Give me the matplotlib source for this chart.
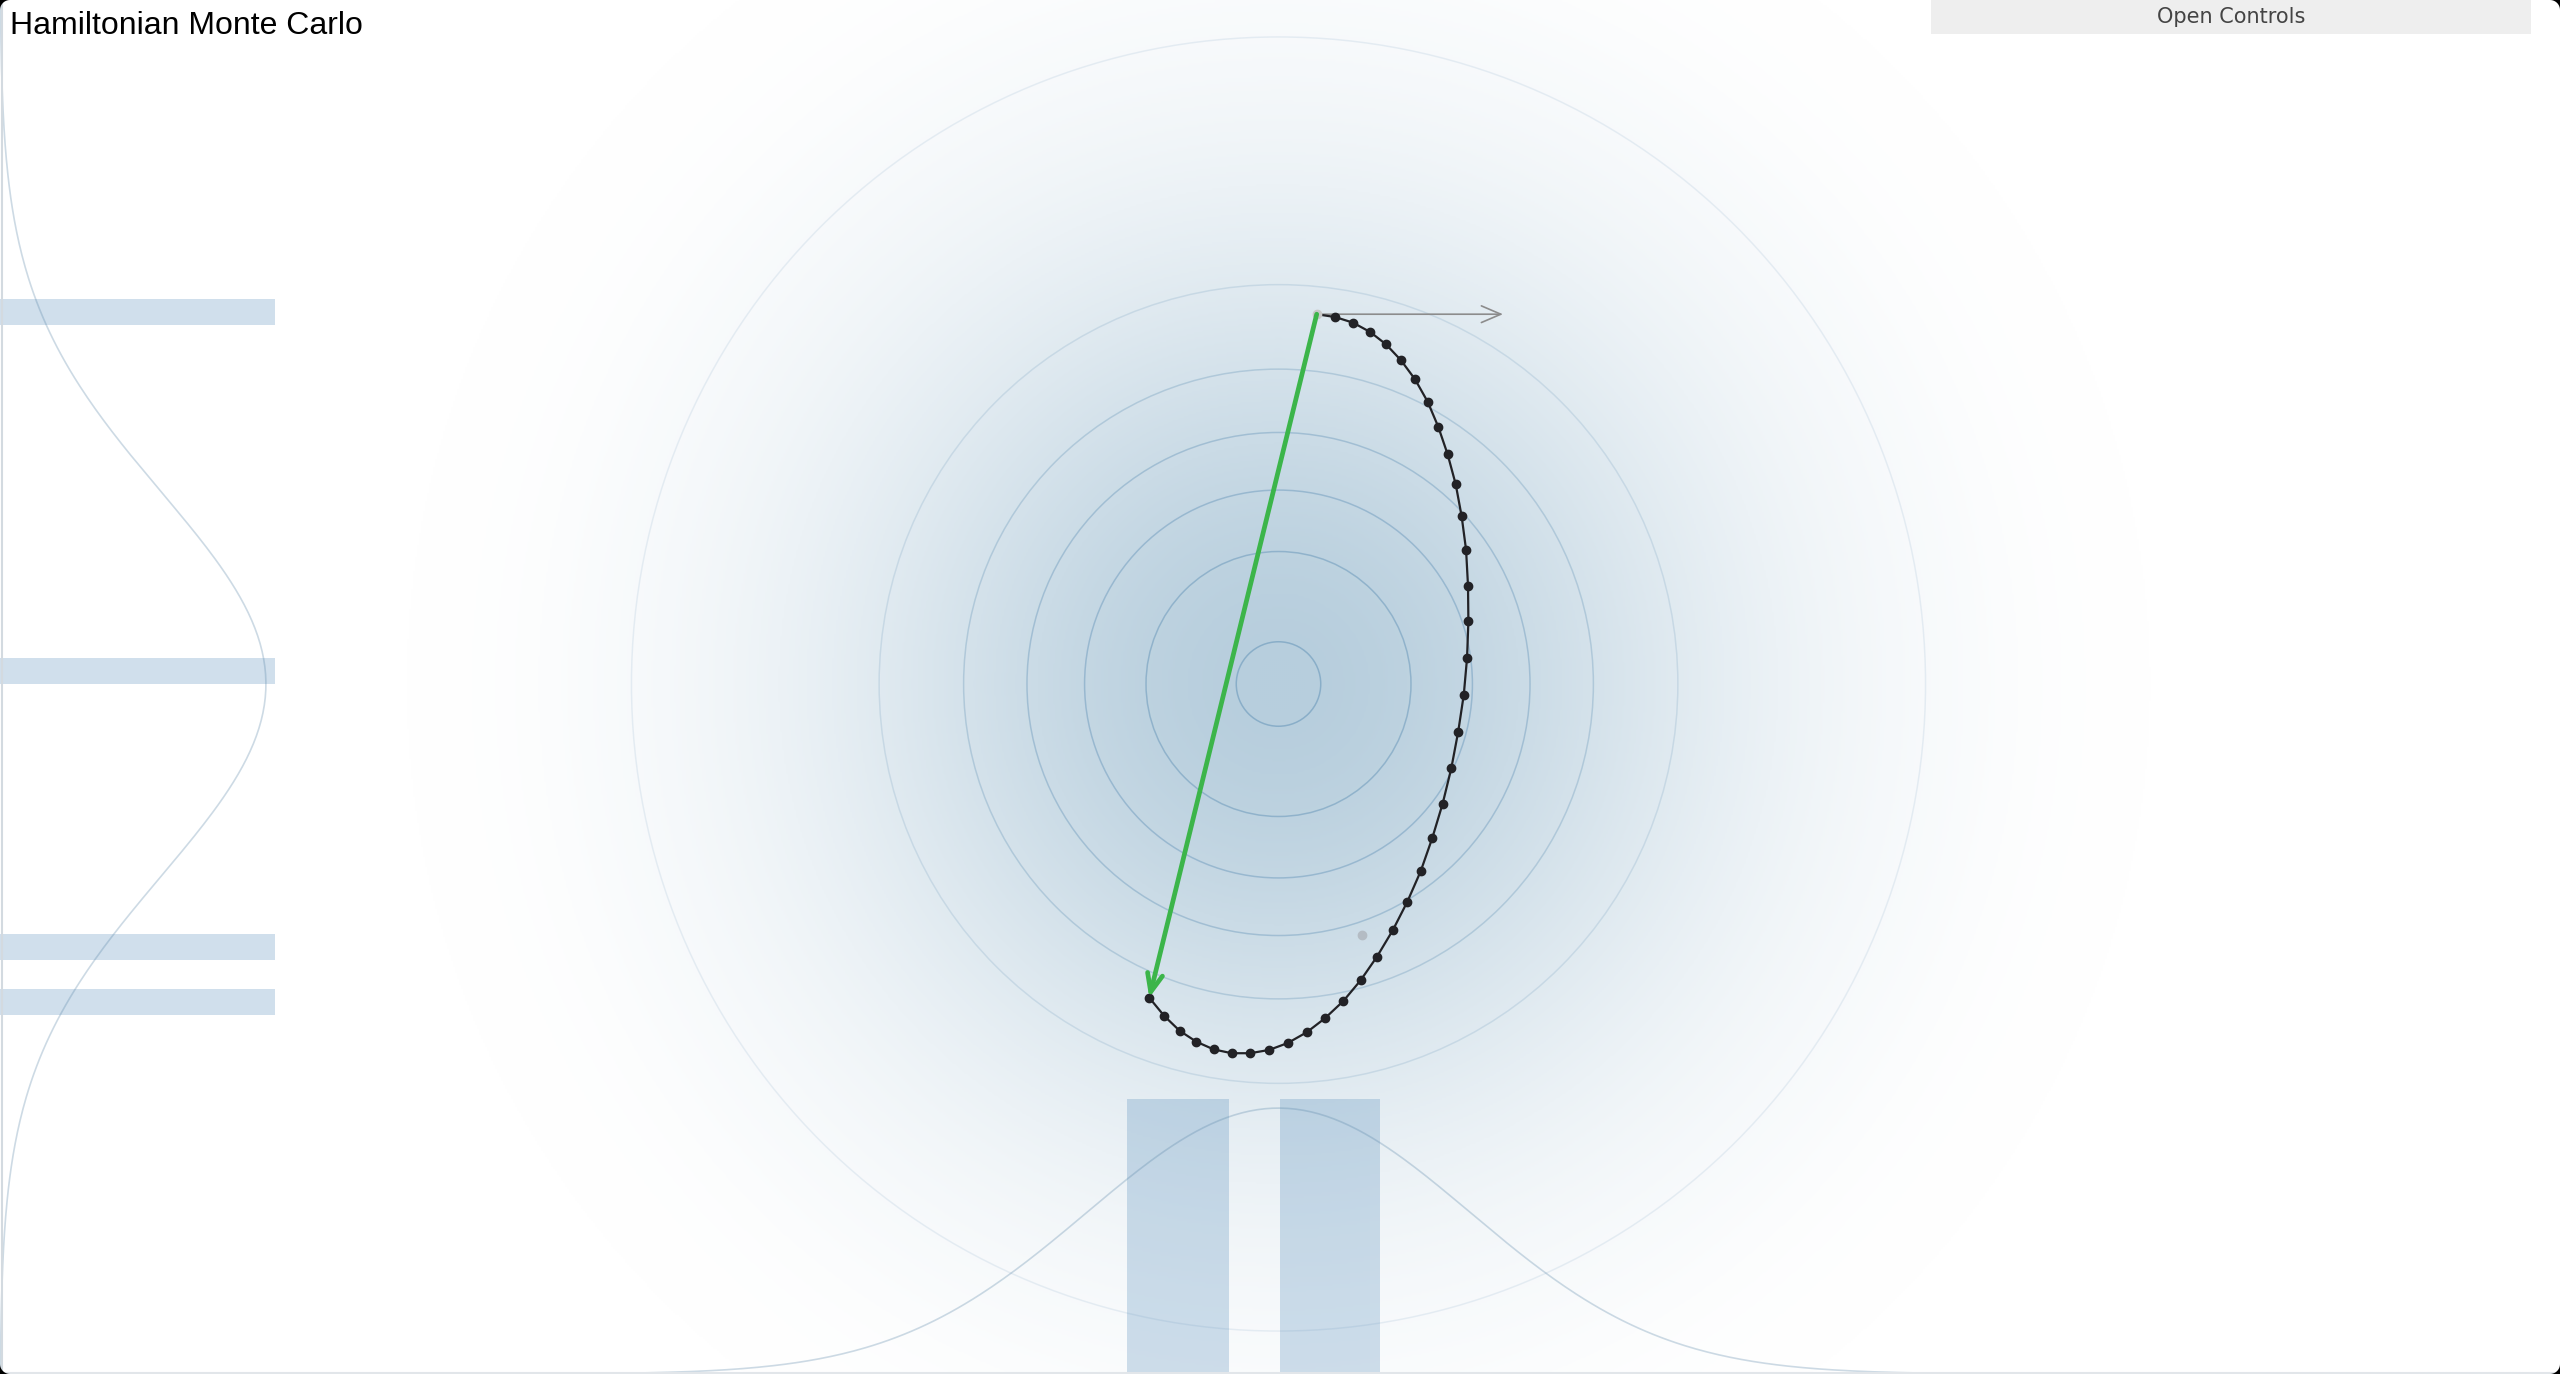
import numpy as np
import matplotlib.pyplot as plt
from matplotlib.colors import LinearSegmentedColormap
from matplotlib.patches import Circle, Rectangle, Polygon
from matplotlib.lines import Line2D

# leapfrog trajectory (units of sigma, target centred at 0,0)
traj_x = [0.199, 0.296, 0.388, 0.478, 0.560, 0.638, 0.711, 0.777, 0.832, 0.881,
          0.923, 0.954, 0.977, 0.987, 0.989, 0.982, 0.965, 0.936, 0.900, 0.855,
          0.801, 0.741, 0.671, 0.595, 0.513, 0.428, 0.338, 0.242, 0.147, 0.048,
          -0.049, -0.148, -0.244, -0.338, -0.428, -0.515, -0.595, -0.673]
traj_y = [1.926, 1.911, 1.882, 1.833, 1.769, 1.686, 1.587, 1.470, 1.340, 1.196,
          1.040, 0.873, 0.698, 0.512, 0.327, 0.135, -0.056, -0.248, -0.439, -0.623,
          -0.802, -0.974, -1.134, -1.283, -1.420, -1.543, -1.651, -1.741, -1.814, -1.870,
          -1.906, -1.923, -1.923, -1.903, -1.863, -1.806, -1.729, -1.634]
momentum = [0.97, 0.0]
prev_sample = [0.433, -1.307]

# density contour radii
contour_r = [0.22, 0.69, 1.01, 1.31, 1.64, 2.08, 3.37]
contour_alpha = [0.55, 0.5, 0.45, 0.4, 0.32, 0.2, 0.13]

# sample histograms (bin edges and counts)
x_bin_lo = [-0.79, 0.01]
x_bin_hi = [-0.26, 0.53]
x_counts = [1, 1]
y_bin_lo = [1.870, 0.0, -1.438, -1.724]
y_bin_hi = [2.005, 0.135, -1.302, -1.589]
y_counts = [1, 1, 1, 1]

W, H = 2560, 1374
S = 192.0          # pixels per sigma
cx, cy = 1278.5, 684.0
xlim = (-cx / S, (W - cx) / S)
ylim = (-(H - cy) / S, cy / S)

fig = plt.figure(figsize=(25.6, 13.74), dpi=100)
ax = fig.add_axes([0, 0, 1, 1])
ax.set_xlim(xlim)
ax.set_ylim(ylim)
ax.axis('off')

# background glow of the target density
xs = np.linspace(xlim[0], xlim[1], 1280)
ys = np.linspace(ylim[0], ylim[1], 687)
X, Y = np.meshgrid(xs, ys)
R = np.sqrt(X**2 + Y**2)
glow = np.exp(-R**2 / (2 * 1.6**2)) * np.clip((4.8 - R) / 1.2, 0, 1)
cmap = LinearSegmentedColormap.from_list('glow', ['#ffffff', '#b7cedd'])
ax.imshow(glow, extent=(xlim[0], xlim[1], ylim[0], ylim[1]), origin='lower',
          cmap=cmap, vmin=0, vmax=1, interpolation='bilinear', aspect='auto', zorder=0)

for r, a in zip(contour_r, contour_alpha):
    ax.add_patch(Circle((0, 0), r, fill=False, ec='#6494b8', alpha=a, lw=1.1, zorder=1))

# histograms along the edges
hist_h = 1.43
ax.bar(x_bin_lo, np.array(x_counts) * hist_h, width=np.array(x_bin_hi) - np.array(x_bin_lo),
       bottom=ylim[0], align='edge', color='#4682b4', alpha=0.25, lw=0, zorder=2)
ax.barh(y_bin_lo, np.array(y_counts) * hist_h, height=np.array(y_bin_hi) - np.array(y_bin_lo),
        left=xlim[0], align='edge', color='#4682b4', alpha=0.25, lw=0, zorder=2)

# marginal densities
t = np.linspace(-8, 8, 800)
curve_h = 1.385
ax.plot(t, ylim[0] + curve_h * np.exp(-t**2 / 2), color='#5a86a8', alpha=0.3, lw=1.2, zorder=3)
ax.plot(xlim[0] + curve_h * np.exp(-t**2 / 2), t, color='#5a86a8', alpha=0.3, lw=1.2, zorder=3)

# previous sample
ax.plot(*prev_sample, 'o', ms=6, color='#b4bcc4', zorder=4)

# momentum arrow
ax.annotate('', xy=(traj_x[0] + momentum[0], traj_y[0] + momentum[1]),
            xytext=(traj_x[0], traj_y[0]),
            arrowprops=dict(arrowstyle='->,head_length=1.4,head_width=0.6', color='#8c8c8c',
                            lw=1.2, shrinkA=0, shrinkB=0), zorder=4)

# trajectory
ax.plot(traj_x, traj_y, color='#222226', lw=1.6, zorder=5)
ax.plot(traj_x[1:], traj_y[1:], 'o', ms=6, color='#222226', zorder=6)
ax.plot(traj_x[0], traj_y[0], 'o', ms=6, color='#c8c8c8', zorder=6)

# proposal arrow
ax.annotate('', xy=(traj_x[-1], traj_y[-1]), xytext=(traj_x[0], traj_y[0]),
            arrowprops=dict(arrowstyle='->,head_length=1.3,head_width=0.55', color='#3cb54a',
                            lw=3.4, shrinkA=0, shrinkB=0), zorder=7)

fig.text(10 / W, 1 - 34 / H, 'Hamiltonian Monte Carlo', fontsize=23,
         family='Liberation Sans', color='black', va='baseline', ha='left')

fig.patches.append(Rectangle((1931 / W, 1 - 34 / H), 600 / W, 34 / H, transform=fig.transFigure,
                             facecolor='#eeeeee', edgecolor='none', zorder=10))
fig.text(2231 / W, 1 - 17 / H, 'Open Controls', fontsize=15, family='DejaVu Sans',
         color='#444444', ha='center', va='center', zorder=11)

# window frame: thin border and dark rounded corners
fig.add_artist(Line2D([1.5 / W, 1.5 / W], [0, 1], color='#d3dae0', lw=1.5))
fig.add_artist(Line2D([0, 1], [1.5 / H, 1.5 / H], color='#e2e6ea', lw=1.5))
rc = 10
ang = np.linspace(0, np.pi / 2, 12)
for sx, sy in [(0, 0), (W, 0), (0, H), (W, H)]:
    dx = 1 if sx == 0 else -1
    dy = 1 if sy == 0 else -1
    pts = [(sx, sy)] + [(sx + dx * rc * (1 - np.cos(a)), sy + dy * rc * (1 - np.sin(a))) for a in ang]
    fig.patches.append(Polygon([(px / W, 1 - py / H) for px, py in pts], closed=True,
                               transform=fig.transFigure, facecolor='black', edgecolor='none',
                               zorder=12))

fig.savefig('out.png', dpi=100)
